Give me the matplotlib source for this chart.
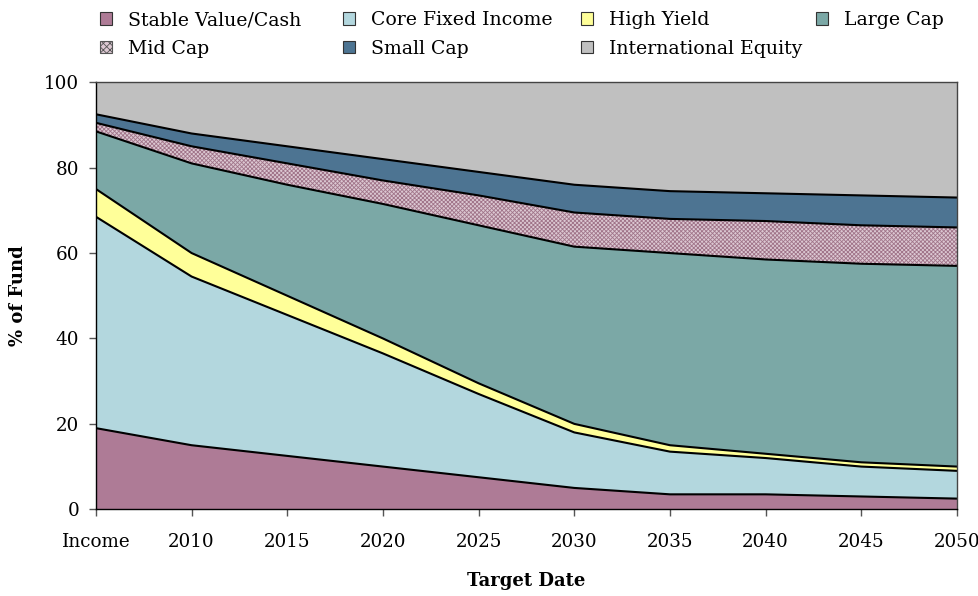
import matplotlib
matplotlib.use("Agg")
import matplotlib.pyplot as plt
import numpy as np
from matplotlib.patches import Patch

plt.rcParams.update({
    "font.family": "DejaVu Serif",
    "font.size": 13.2,
    "hatch.linewidth": 0.6,
})

# Glide path data (% of fund)
target_dates = ["Income", "2010", "2015", "2020", "2025", "2030", "2035", "2040", "2045", "2050"]
stable_value = [19.0, 15.0, 12.5, 10.0, 7.5, 5.0, 3.5, 3.5, 3.0, 2.5]
core_fixed = [49.5, 39.5, 33.0, 26.5, 19.5, 13.0, 10.0, 8.5, 7.0, 6.5]
high_yield = [6.5, 5.5, 4.5, 3.5, 2.5, 2.0, 1.5, 1.0, 1.0, 1.0]
large_cap = [13.5, 21.0, 26.0, 31.5, 37.0, 41.5, 45.0, 45.5, 46.5, 47.0]
mid_cap = [2.0, 4.0, 5.0, 5.5, 7.0, 8.0, 8.0, 9.0, 9.0, 9.0]
small_cap = [2.0, 3.0, 4.0, 5.0, 5.5, 6.5, 6.5, 6.5, 7.0, 7.0]
intl_equity = [7.5, 12.0, 15.0, 18.0, 21.0, 24.0, 25.5, 26.0, 26.5, 27.0]

series_names = ["Stable Value/Cash", "Core Fixed Income", "High Yield", "Large Cap",
                "Mid Cap", "Small Cap", "International Equity"]
series = [stable_value, core_fixed, high_yield, large_cap, mid_cap, small_cap, intl_equity]
colors = ["#AE7B96", "#B3D7DE", "#FFFF99", "#7BA8A6", "#DCC8D2", "#4D7492", "#C0C0C0"]
hatches = [None, None, None, None, "xxxxxxxx", None, None]

x = np.arange(len(target_dates))
data = np.array(series)
tops = np.cumsum(data, axis=0)
bottoms = tops - data

fig = plt.figure(figsize=(9.79, 5.96), dpi=100)
ax = fig.add_axes([0.098, 0.1455, 0.8795, 0.7165])

handles = []
for i, name in enumerate(series_names):
    if hatches[i]:
        ax.fill_between(x, bottoms[i], tops[i], facecolor=colors[i], edgecolor="#A07489",
                        hatch=hatches[i], linewidth=0)
        handles.append(Patch(facecolor=colors[i], edgecolor="#555555", hatch="xxxxx",
                             linewidth=0.8, label=name))
    else:
        ax.fill_between(x, bottoms[i], tops[i], facecolor=colors[i], linewidth=0)
        handles.append(Patch(facecolor=colors[i], edgecolor="#333333", linewidth=0.8, label=name))

# black boundary lines between the bands
for i in range(len(series) - 1):
    ax.plot(x, tops[i], color="black", linewidth=1.5, solid_joinstyle="round")

ax.set_xlim(0, len(target_dates) - 1)
ax.set_ylim(0, 100)
ax.set_xticks(x)
ax.set_xticklabels(target_dates)
ax.set_yticks(np.arange(0, 101, 20))
ax.tick_params(direction="out", length=5, width=1, color="#555555")
ax.tick_params(axis="x", pad=12)
ax.tick_params(axis="y", pad=7)
for side in ["left", "bottom"]:
    ax.spines[side].set_color("black")
    ax.spines[side].set_linewidth(1)
for side in ["top", "right"]:
    ax.spines[side].set_color("#444444")
    ax.spines[side].set_linewidth(1)

ax.set_ylabel("% of Fund", fontweight="bold", fontsize=13, labelpad=12)
ax.set_xlabel("Target Date", fontweight="bold", fontsize=13, labelpad=15)

# legend: 4 evenly placed columns, filled row by row as in the reference
legend_cols = [[0, 4], [1, 5], [2, 6], [3]]
col_x = [0.102, 0.350, 0.593, 0.833]
for cx, idx in zip(col_x, legend_cols):
    leg = fig.legend(handles=[handles[k] for k in idx], ncol=1, loc="upper left",
                     bbox_to_anchor=(cx, 0.981), frameon=False, borderpad=0, borderaxespad=0,
                     handlelength=0.65, handleheight=0.65, handletextpad=0.85,
                     labelspacing=0.55, fontsize=13.6)

fig.savefig("out.png", dpi=100)
